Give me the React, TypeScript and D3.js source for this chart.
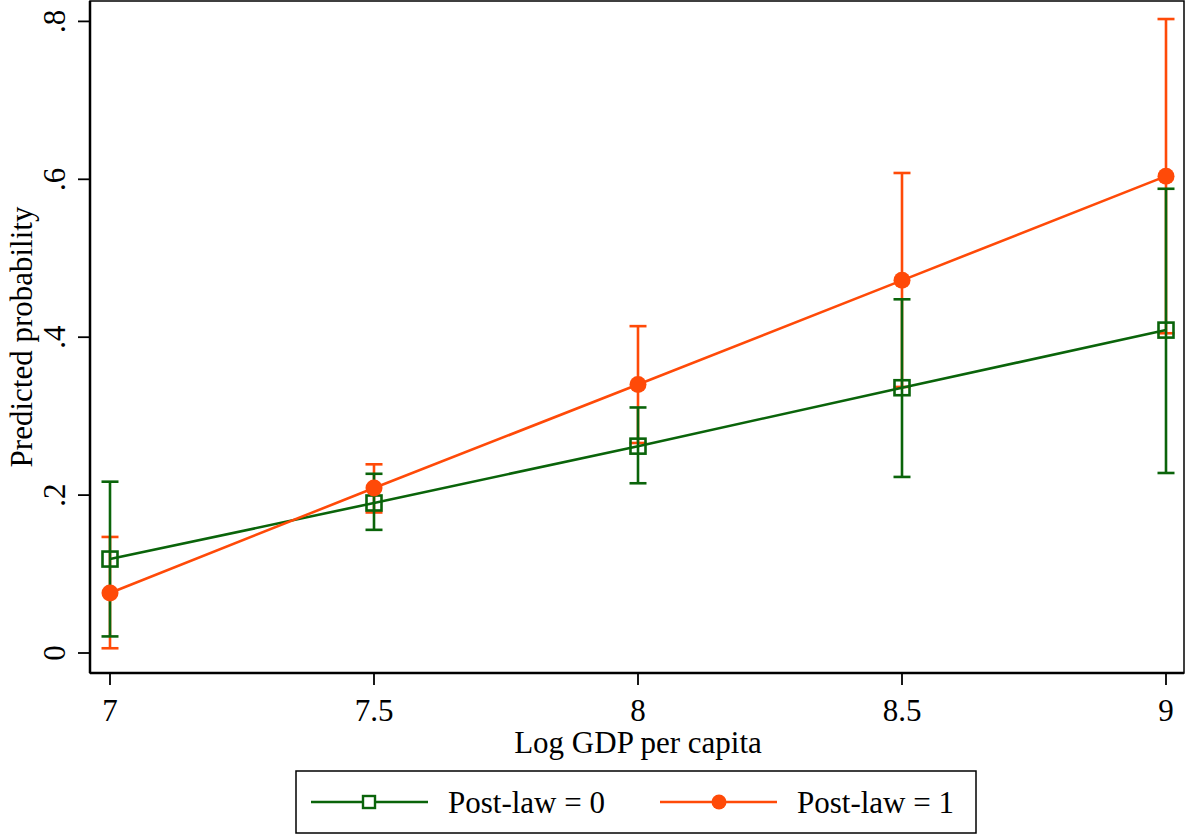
import React from 'react';
import * as d3 from 'd3';

const xValues = [7, 7.5, 8, 8.5, 9];
const xTickLabels = ['7', '7.5', '8', '8.5', '9'];
const yTicks = [0, 0.2, 0.4, 0.6, 0.8];
const yTickLabels = ['0', '.2', '.4', '.6', '.8'];

const postLaw0 = [0.119, 0.190, 0.262, 0.336, 0.409];
const postLaw0Lo = [0.021, 0.156, 0.215, 0.223, 0.228];
const postLaw0Hi = [0.217, 0.227, 0.311, 0.448, 0.588];

const postLaw1 = [0.076, 0.209, 0.340, 0.472, 0.604];
const postLaw1Lo = [0.006, 0.178, 0.266, 0.337, 0.405];
const postLaw1Hi = [0.147, 0.239, 0.414, 0.608, 0.803];

const GREEN = '#0a640a';
const ORANGE = '#ff4a08';
const FONT = '"Liberation Serif", "Times New Roman", serif';

const App: React.FC = () => {
    const width = 1186;
    const height = 835;

    // plot region
    const left = 90, right = 1184, top = 1, bottom = 673;

    const x = d3.scaleLinear().domain([7, 9]).range([110, 1166]);
    const y = d3.scaleLinear().domain([0, 0.8]).range([653, 21.4]);

    const line = d3.line<number>()
        .x((_, i) => x(xValues[i]))
        .y(d => y(d));

    const capHalf = 8.5;

    const renderCaps = (lo: number[], hi: number[], color: string) => (
        <g stroke={color} strokeWidth={2.6} fill="none">
            {xValues.map((xv, i) => (
                <g key={i}>
                    <line x1={x(xv)} x2={x(xv)} y1={y(lo[i])} y2={y(hi[i])} />
                    <line x1={x(xv) - capHalf} x2={x(xv) + capHalf} y1={y(lo[i])} y2={y(lo[i])} />
                    <line x1={x(xv) - capHalf} x2={x(xv) + capHalf} y1={y(hi[i])} y2={y(hi[i])} />
                </g>
            ))}
        </g>
    );

    const legendY = 802;

    return (
        <svg width={width} height={height}
            style={{ position: 'absolute', left: 0, top: 0, background: '#fff', fontFamily: FONT }}>
            <rect x={0} y={0} width={width} height={height} fill="#fff" />

            {/* plot frame */}
            <rect x={left} y={top} width={right - left} height={bottom - top} fill="none" stroke="#000" strokeWidth={1.5} />
            <line x1={left} x2={right} y1={bottom} y2={bottom} stroke="#000" strokeWidth={2.5} />
            <line x1={left} x2={left} y1={top} y2={bottom} stroke="#000" strokeWidth={2.5} />

            {/* y axis */}
            {yTicks.map((t, i) => (
                <g key={t}>
                    <line x1={left - 12} x2={left} y1={y(t)} y2={y(t)} stroke="#000" strokeWidth={1.8} />
                    <text transform={`translate(65,${y(t)}) rotate(-90)`} textAnchor="middle" fontSize={31}>
                        {yTickLabels[i]}
                    </text>
                </g>
            ))}
            <text transform={`translate(32,${337}) rotate(-90)`} textAnchor="middle" fontSize={31}>
                Predicted probability
            </text>

            {/* x axis */}
            {xValues.map((t, i) => (
                <g key={t}>
                    <line x1={x(t)} x2={x(t)} y1={bottom} y2={bottom + 12} stroke="#000" strokeWidth={1.8} />
                    <text x={x(t)} y={721} textAnchor="middle" fontSize={31}>{xTickLabels[i]}</text>
                </g>
            ))}
            <text x={638} y={753} textAnchor="middle" fontSize={31}>Log GDP per capita</text>

            {/* confidence intervals */}
            {renderCaps(postLaw1Lo, postLaw1Hi, ORANGE)}
            {renderCaps(postLaw0Lo, postLaw0Hi, GREEN)}

            {/* Post-law = 0 */}
            <path d={line(postLaw0) ?? ''} fill="none" stroke={GREEN} strokeWidth={2.6} />
            {postLaw0.map((v, i) => (
                <rect key={i} x={x(xValues[i]) - 7.5} y={y(v) - 7.5} width={15} height={15}
                    fill="none" stroke={GREEN} strokeWidth={2.6} />
            ))}

            {/* Post-law = 1 */}
            <path d={line(postLaw1) ?? ''} fill="none" stroke={ORANGE} strokeWidth={2.6} />
            {postLaw1.map((v, i) => (
                <circle key={i} cx={x(xValues[i])} cy={y(v)} r={8.5} fill={ORANGE} />
            ))}

            {/* legend */}
            <rect x={296} y={771} width={680} height={62} fill="#fff" stroke="#000" strokeWidth={1.5} />
            <line x1={311} x2={428} y1={legendY} y2={legendY} stroke={GREEN} strokeWidth={2.6} />
            <rect x={363} y={legendY - 6} width={12} height={12} fill="#fff" stroke={GREEN} strokeWidth={2.4} />
            <text x={448} y={legendY + 11} fontSize={31}>Post-law = 0</text>
            <line x1={660} x2={777} y1={legendY} y2={legendY} stroke={ORANGE} strokeWidth={2.6} />
            <circle cx={719} cy={legendY} r={7.5} fill={ORANGE} />
            <text x={797} y={legendY + 11} fontSize={31}>Post-law = 1</text>
        </svg>
    );
};

export default App;
